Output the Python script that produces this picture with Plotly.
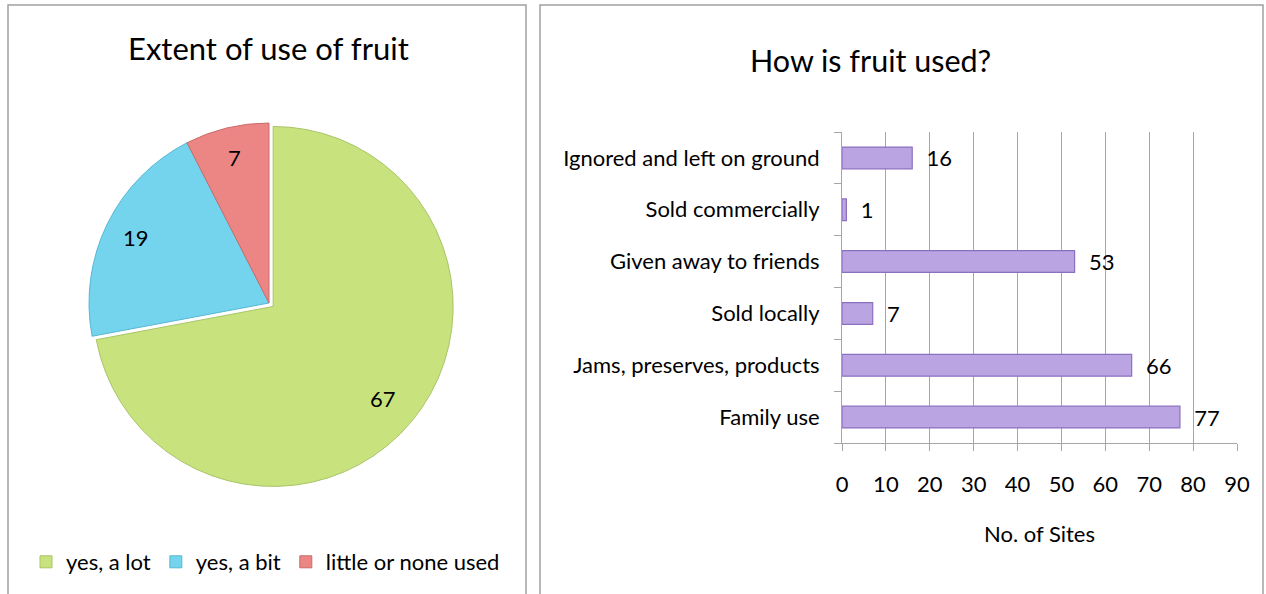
import math
import plotly.graph_objects as go

W, H = 1266, 594

# Pie data
pie_labels = ["yes, a lot", "yes, a bit", "little or none used"]
pie_values = [67, 19, 7]
pie_colors = ["#C8E27E", "#74D4EE", "#EC8684"]
pie_lines = ["#A9C468", "#58B7D2", "#C96C6A"]

# Bar data (bottom to top)
bar_cats = ["Family use", "Jams, preserves, products", "Sold locally",
            "Given away to friends", "Sold commercially", "Ignored and left on ground"]
bar_vals = [77, 66, 7, 53, 1, 16]
x_ticks = [0, 10, 20, 30, 40, 50, 60, 70, 80, 90]

FONT = "Lato"
FS = 22

def px(x):
    return x / W

def py(y):
    return 1 - y / H

fig = go.Figure()

pull = 0.03
R = 180
r = R * (1 + pull)
cx, cy = 269, 303
fig.add_trace(go.Pie(
    labels=pie_labels, values=pie_values, sort=False, direction="clockwise",
    rotation=0, pull=[pull, 0, 0],
    marker=dict(colors=pie_colors, line=dict(color=pie_lines, width=1)),
    textinfo="none",
    domain=dict(x=[px(cx - r), px(cx + r)], y=[py(cy + r), py(cy - r)]),
    showlegend=True, hoverinfo="label+value",
))

# pie value labels placed at ~0.83 radius along each slice bisector
annotations = []
total = sum(pie_values)
cum = 0
for v in pie_values:
    mid = (cum + v / 2) / total * 2 * math.pi
    cum += v
    lx = cx + 0.82 * R * math.sin(mid)
    ly = cy - 0.83 * R * math.cos(mid)
    annotations.append(dict(text=str(v), x=px(lx), y=py(ly), xref="paper", yref="paper",
                            showarrow=False, font=dict(family=FONT, size=FS, color="black"),
                            xanchor="center", yanchor="middle"))

fig.add_trace(go.Bar(
    y=bar_cats, x=bar_vals, orientation="h", width=0.42,
    marker=dict(color="#BAA4E2", line=dict(color="#8C70C0", width=1.2)),
    text=["\u00a0\u00a0" + str(v) for v in bar_vals], textposition="outside",
    constraintext="none",
    textfont=dict(family=FONT, size=FS, color="black"),
    cliponaxis=False, showlegend=False, xaxis="x", yaxis="y",
))

grid = "#A6A6A6"
annotations += [
    dict(text="Extent of use of fruit", x=px(268), y=py(48), xref="paper", yref="paper",
         showarrow=False, font=dict(family=FONT, size=31), xanchor="center", yanchor="middle"),
    dict(text="How is fruit used?", x=px(870), y=py(60), xref="paper", yref="paper",
         showarrow=False, font=dict(family=FONT, size=30.5), xanchor="center", yanchor="middle"),
]

fig.update_layout(
    width=W, height=H, margin=dict(l=0, r=0, t=0, b=0, autoexpand=False),
    paper_bgcolor="white", plot_bgcolor="white",
    font=dict(family=FONT, size=FS, color="black"),
    xaxis=dict(domain=[px(842), px(1237)], range=[0, 90], tickvals=x_ticks,
               showgrid=True, gridcolor=grid, gridwidth=1,
               showline=True, linecolor=grid, linewidth=1,
               ticks="outside", ticklen=7, tickcolor=grid,
               zeroline=False, anchor="y", automargin=False,
               ticklabelstandoff=15,
               tickfont=dict(family=FONT, size=FS),
               title=dict(text="No. of Sites", font=dict(family=FONT, size=FS), standoff=30)),
    yaxis=dict(domain=[py(443), py(132)], type="category", categoryorder="array",
               categoryarray=bar_cats, range=[-0.5, 5.5],
               showgrid=False, showline=True, linecolor=grid, linewidth=1,
               ticks="outside", ticklen=7, tickcolor=grid, tickson="boundaries",
               anchor="x", ticklabelstandoff=17, automargin=False,
               tickfont=dict(family=FONT, size=FS)),
    legend=dict(orientation="h", x=px(26), y=py(562), xanchor="left", yanchor="middle",
                font=dict(family=FONT, size=FS), itemwidth=30, tracegroupgap=0,
                bgcolor="rgba(0,0,0,0)"),
    shapes=[
        dict(type="rect", xref="paper", yref="paper", x0=px(8), x1=px(526), y0=py(600), y1=py(5),
             line=dict(color="#A0A0A0", width=1.5)),
        dict(type="rect", xref="paper", yref="paper", x0=px(540), x1=px(1263), y0=py(600), y1=py(5),
             line=dict(color="#A0A0A0", width=1.5)),
    ],
    annotations=annotations,
)

fig.write_html("out.html", config={"displayModeBar": False},
               post_script="document.body.style.margin='0';document.body.style.overflow='hidden';")
